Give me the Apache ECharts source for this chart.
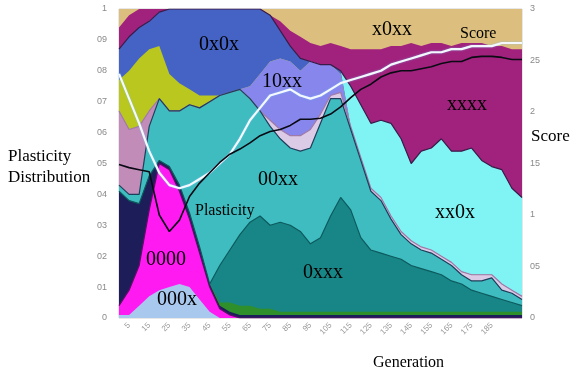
<!DOCTYPE html>
<html>
<head>
<meta charset="utf-8">
<script src="https://cdn.jsdelivr.net/npm/echarts@6/dist/echarts.min.js"></script>
<style>
  html, body { margin: 0; padding: 0; background: #fff; }
  #chart { width: 576px; height: 374px; }
</style>
</head>
<body>
<div id="chart"></div>
<script>
// Generations along the run
const generations = ['0','5','10','15','20','25','30','35','40','45','50','55','60','65','70','75','80','85','90','95','100',
  '105','110','115','120','125','130','135','140','145','150','155','160','165','170','175','180','185','190','195','200'];

// Cumulative upper edge of each plasticity class (share of population, 0..1), top class first
const edgeX0xx = [1,1,1,1,1,1,1,1,1,1,1,1,1,1,1,1,1,1,1,1,1,1,1,1,1,1,1,1,1,1,1,1,1,1,1,1,1,1,1,1,1];
const edgeXxxx = [0.94,0.98,1,1,1,1,1,1,1,1,1,1,1,1,1,0.98,0.96,0.93,0.91,0.89,0.88,0.89,0.88,0.87,0.87,0.87,0.87,0.88,0.88,0.89,0.88,0.89,0.89,0.88,0.89,0.89,0.89,0.88,0.88,0.87,0.87];
const edgeXx0x = [0.87,0.91,0.94,0.96,0.99,1,1,1,1,1,1,1,1,1,1,0.98,0.93,0.88,0.84,0.83,0.82,0.82,0.80,0.75,0.69,0.63,0.64,0.63,0.58,0.50,0.54,0.55,0.58,0.54,0.54,0.55,0.51,0.49,0.48,0.42,0.39];
const edge0x0x = [0.87,0.91,0.94,0.96,0.99,1,1,1,1,1,1,1,1,1,1,0.98,0.93,0.88,0.84,0.83,0.82,0.82,0.80,0.62,0.52,0.42,0.39,0.33,0.28,0.25,0.23,0.22,0.20,0.18,0.15,0.14,0.14,0.14,0.11,0.09,0.07];
const edgeOther1 = [0.77,0.80,0.84,0.87,0.88,0.79,0.76,0.74,0.72,0.72,0.72,0.73,0.74,0.75,0.79,0.83,0.84,0.83,0.80,0.83,0.82,0.82,0.79,0.62,0.52,0.42,0.39,0.33,0.28,0.25,0.23,0.22,0.20,0.18,0.15,0.14,0.14,0.14,0.11,0.09,0.07];
const edge10xx = [0.67,0.61,0.62,0.67,0.71,0.67,0.67,0.69,0.68,0.70,0.72,0.73,0.74,0.75,0.79,0.83,0.84,0.83,0.80,0.83,0.82,0.82,0.79,0.62,0.52,0.42,0.39,0.33,0.28,0.25,0.23,0.22,0.20,0.18,0.15,0.14,0.14,0.14,0.11,0.09,0.07];
const edgeOther2 = [0.67,0.61,0.62,0.67,0.71,0.67,0.67,0.69,0.68,0.70,0.72,0.73,0.74,0.71,0.67,0.64,0.61,0.59,0.59,0.61,0.66,0.72,0.73,0.62,0.52,0.42,0.39,0.33,0.28,0.25,0.23,0.22,0.20,0.18,0.15,0.14,0.14,0.14,0.11,0.09,0.07];
const edgeOther3 = [0.67,0.61,0.62,0.67,0.71,0.67,0.67,0.69,0.68,0.70,0.72,0.73,0.74,0.71,0.67,0.62,0.58,0.55,0.54,0.55,0.63,0.71,0.71,0.61,0.51,0.41,0.38,0.32,0.27,0.24,0.22,0.21,0.19,0.17,0.14,0.12,0.12,0.13,0.09,0.08,0.06];
const edge00xx = [0.43,0.40,0.40,0.62,0.71,0.67,0.67,0.69,0.68,0.70,0.72,0.73,0.74,0.71,0.67,0.62,0.58,0.55,0.54,0.55,0.63,0.71,0.71,0.61,0.51,0.41,0.38,0.32,0.27,0.24,0.22,0.21,0.19,0.17,0.14,0.12,0.12,0.13,0.09,0.08,0.06];
const edge0xxx = [0.41,0.38,0.37,0.46,0.51,0.49,0.43,0.34,0.23,0.11,0.17,0.22,0.27,0.31,0.33,0.30,0.31,0.30,0.28,0.24,0.26,0.33,0.39,0.35,0.26,0.22,0.21,0.20,0.19,0.17,0.16,0.15,0.14,0.12,0.11,0.09,0.08,0.07,0.06,0.05,0.04];
const edgeOther4 = [0.41,0.38,0.37,0.46,0.51,0.49,0.43,0.34,0.23,0.11,0.05,0.05,0.04,0.04,0.03,0.03,0.02,0.02,0.02,0.02,0.02,0.02,0.02,0.02,0.02,0.02,0.02,0.02,0.02,0.02,0.02,0.02,0.02,0.02,0.02,0.02,0.02,0.02,0.02,0.02,0.02];
const edgeOther5 = [0.41,0.38,0.37,0.46,0.51,0.49,0.43,0.34,0.23,0.11,0.04,0.02,0.01,0.01,0.01,0.01,0.01,0.01,0.01,0.01,0.01,0.01,0.01,0.01,0.01,0.01,0.01,0.01,0.01,0.01,0.01,0.01,0.01,0.01,0.01,0.01,0.01,0.01,0.01,0.01,0.01];
const edge0000 = [0.04,0.09,0.17,0.35,0.50,0.48,0.41,0.32,0.21,0.10,0.03,0.01,0,0,0,0,0,0,0,0,0,0,0,0,0,0,0,0,0,0,0,0,0,0,0,0,0,0,0,0,0];
const edge000x = [0.01,0.01,0.04,0.07,0.09,0.10,0.11,0.10,0.06,0.02,0,0,0,0,0,0,0,0,0,0,0,0,0,0,0,0,0,0,0,0,0,0,0,0,0,0,0,0,0,0,0];

// Mean plasticity (left axis) and score (right axis)
const plasticity = [0.79,0.71,0.63,0.54,0.47,0.43,0.42,0.43,0.45,0.47,0.50,0.53,0.58,0.64,0.68,0.72,0.73,0.74,0.72,0.71,0.72,0.74,0.76,0.77,0.78,0.79,0.80,0.82,0.83,0.84,0.85,0.86,0.86,0.87,0.87,0.88,0.88,0.88,0.89,0.89,0.89];
const score = [1.49,1.46,1.44,1.42,1.00,0.84,0.95,1.18,1.31,1.41,1.51,1.59,1.64,1.70,1.77,1.81,1.83,1.87,1.93,1.93,1.94,1.98,2.05,2.14,2.22,2.27,2.34,2.38,2.40,2.40,2.42,2.44,2.47,2.49,2.49,2.53,2.54,2.54,2.53,2.51,2.51];

// Tick labels
const distTicks = ['0','01','02','03','04','05','06','07','08','09','1'];
const scoreTicks = ['0','05','1','15','2','25','3'];

// Layers drawn from the top class down; each fills from its edge to zero
const layers = [
  { name: 'x0xx', data: edgeX0xx, color: '#dcbf7e' },
  { name: 'xxxx', data: edgeXxxx, color: '#a1227c' },
  { name: 'xx0x', data: edgeXx0x, color: '#80f4f4', line: '#3a1a48' },
  { name: '0x0x', data: edge0x0x, color: '#4563c4' },
  { name: 'other1', data: edgeOther1, color: '#b9c71f' },
  { name: '10xx', data: edge10xx, color: '#8686ec' },
  { name: 'other2', data: edgeOther2, color: '#dccbe6', line: '#a07aa8' },
  { name: 'other3', data: edgeOther3, color: '#c28cb9' },
  { name: '00xx', data: edge00xx, color: '#3fbcbf', line: '#1d3f5c' },
  { name: '0xxx', data: edge0xxx, color: '#188686', line: '#0d5a5e' },
  { name: 'other4', data: edgeOther4, color: '#2f8f2a' },
  { name: 'other5', data: edgeOther5, color: '#1d1d5a' },
  { name: '0000', data: edge0000, color: '#ff1af2', line: '#5a1066' },
  { name: '000x', data: edge000x, color: '#a9c8ee' }
];

const series = layers.map(l => ({
  name: l.name,
  type: 'line',
  data: l.data,
  yAxisIndex: 0,
  showSymbol: false,
  symbol: 'none',
  silent: true,
  lineStyle: { width: l.line ? 1.2 : 0, color: l.line || l.color },
  areaStyle: { color: l.color, opacity: 1 }
}));

series.push({
  name: 'Plasticity',
  type: 'line',
  data: plasticity,
  yAxisIndex: 0,
  symbol: 'none',
  z: 5,
  lineStyle: { color: '#f4f8ff', width: 2.2, shadowColor: 'rgba(120,200,255,0.6)', shadowBlur: 2 }
});
series.push({
  name: 'Score',
  type: 'line',
  data: score,
  yAxisIndex: 1,
  symbol: 'none',
  z: 6,
  lineStyle: { color: '#0a0a14', width: 1.6 }
});

const serif = '"Liberation Serif", "DejaVu Serif", serif';
function label(text, x, y, size) {
  return { type: 'text', x: x, y: y, z: 100,
    style: { text: text, fontFamily: serif, fontSize: size, fill: '#000', align: 'left', verticalAlign: 'middle' } };
}

const chart = echarts.init(document.getElementById('chart'), null, { renderer: 'canvas' });
chart.setOption({
  animation: false,
  backgroundColor: '#fff',
  grid: { left: 119, right: 54, top: 9, bottom: 56, show: true, borderColor: '#d0d0d0', borderWidth: 1, backgroundColor: 'transparent' },
  xAxis: {
    type: 'category',
    data: generations,
    boundaryGap: false,
    axisLine: { show: false },
    axisTick: { show: false },
    splitLine: { show: false },
    axisLabel: {
      color: '#9a9a9a', fontSize: 8, rotate: 45, margin: 6,
      interval: (i) => i % 2 === 1 && i <= 37
    }
  },
  yAxis: [
    {
      type: 'value', min: 0, max: 1, interval: 0.1,
      axisLine: { show: false }, axisTick: { show: false }, splitLine: { show: false },
      axisLabel: { color: '#8a8a8a', fontSize: 9, margin: 12,
        formatter: (v) => distTicks[Math.round(v * 10)] }
    },
    {
      type: 'value', min: 0, max: 3, interval: 0.5,
      axisLine: { show: false }, axisTick: { show: false }, splitLine: { show: false },
      axisLabel: { color: '#8a8a8a', fontSize: 9, margin: 8,
        formatter: (v) => scoreTicks[Math.round(v * 2)] }
    }
  ],
  series: series,
  graphic: [
    label('0x0x', 199, 45, 20),
    label('x0xx', 372, 30, 20),
    label('Score', 460, 34, 16),
    label('10xx', 262, 82, 20),
    label('xxxx', 447, 105, 20),
    label('00xx', 258, 180, 20),
    label('xx0x', 435, 213, 20),
    label('Plasticity', 195, 211, 16),
    label('0000', 146, 260, 20),
    label('0xxx', 303, 273, 20),
    label('000x', 157, 300, 20),
    label('Plasticity', 8, 157, 17),
    label('Distribution', 8, 178, 17),
    label('Score', 531, 137, 17),
    label('Generation', 373, 363, 16)
  ]
});
</script>
</body>
</html>
